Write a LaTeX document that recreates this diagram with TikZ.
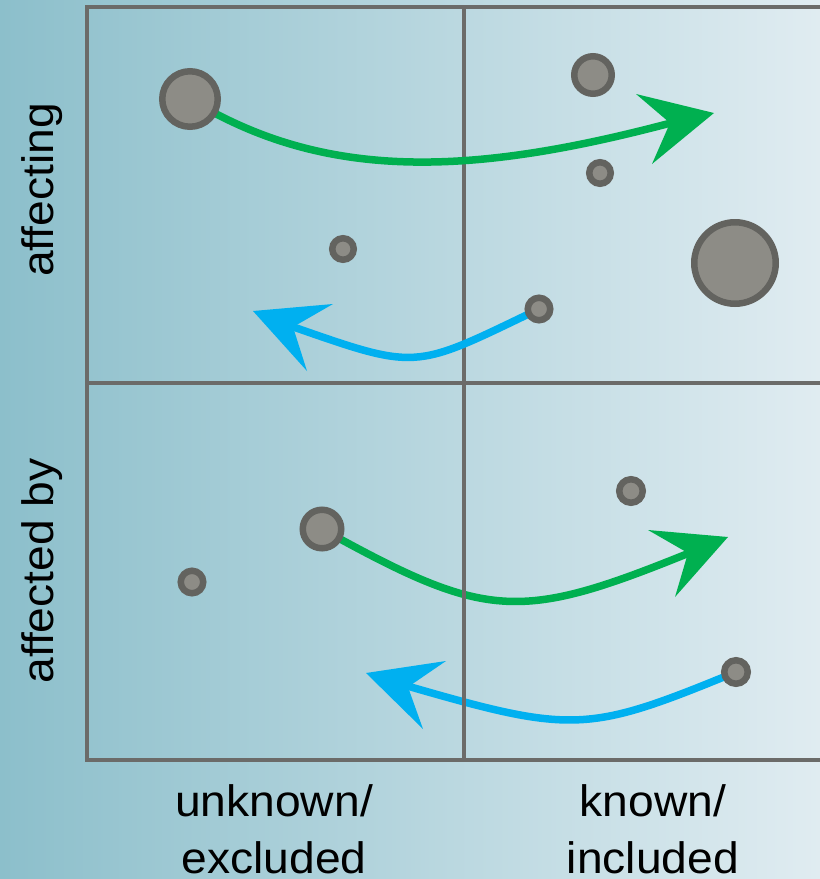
\documentclass[tikz,border=0pt]{standalone}
\usepackage{fontspec}
\setmainfont{Liberation Sans}[FakeStretch=1.05]
\pgfdeclarelayer{back}
\pgfdeclarelayer{lowarr}
\pgfdeclarelayer{gridl}
\pgfdeclarelayer{toparr}
\pgfsetlayers{back,lowarr,gridl,toparr,main}
\definecolor{bgL}{HTML}{8CBFCB}
\definecolor{bgR}{HTML}{E0ECF1}
\definecolor{gridc}{HTML}{6B6B69}
\definecolor{ringc}{HTML}{63635F}
\definecolor{dotc}{HTML}{8D8C86}
\definecolor{garr}{HTML}{00B050}
\definecolor{barr}{HTML}{00B0F0}
\begin{document}
\begin{tikzpicture}[x=1pt,y=-1pt,
  dot/.style={circle,draw=ringc,fill=dotc,line width=6.5pt,inner sep=0pt,minimum size=#1},
  gridline/.style={draw=gridc,line width=4pt},
  garrow/.style={draw=garr,line width=7.5pt},
  barrow/.style={draw=barr,line width=7.5pt},
  lab/.style={font=\fontsize{44}{52}\selectfont,text=black,inner sep=0pt}]
\useasboundingbox (0,0) rectangle (820,879);
% dots
\node[dot=55.5] (d1) at (190,99) {};
\node[dot=21.5] (d2) at (343,249) {};
\node[dot=37.5] (d3) at (593,75) {};
\node[dot=21.5] (d4) at (600,173) {};
\node[dot=81.5] (d5) at (735,263) {};
\node[dot=22.5] (d6) at (539,309) {};
\node[dot=38.5] (d7) at (322,529) {};
\node[dot=22.5] (d8) at (192,582) {};
\node[dot=23.5] (d9) at (631,491) {};
\node[dot=23.5] (d10) at (736,672) {};
% labels
\node[lab,rotate=90,anchor=base] (l1) at (53,190) {affecting};
\node[lab,rotate=90,anchor=base] (l2) at (53,571) {affected by};
\node[lab,anchor=base] (l3) at (274,816) {unknown/};
\node[lab,anchor=base] (l4) at (274,873) {excluded};
\node[lab,anchor=base] (l5) at (653,816) {known/};
\node[lab,anchor=base] (l6) at (653,873) {included};
% background
\begin{pgfonlayer}{back}
\shade[left color=bgL,right color=bgR] (0,0) rectangle (820,879);
\end{pgfonlayer}
% grid
\begin{pgfonlayer}{gridl}
\coordinate (tl) at (87,7);
\coordinate (tm) at (463.5,7);
\coordinate (tr) at (820,7);
\coordinate (ml) at (87,383);
\coordinate (mr) at (820,383);
\coordinate (bl) at (87,760);
\coordinate (bm) at (463.5,760);
\coordinate (br) at (820,760);
\draw[gridline] (tr) -- (tl) -- (bl) -- (br);
\draw[gridline] (ml) -- (mr);
\draw[gridline] (tm) -- (bm);
\end{pgfonlayer}
% top arrows
\begin{pgfonlayer}{toparr}
\coordinate (g1e) at (682,120);
\coordinate (g1t) at (714,113);
\coordinate (g1a) at (636,94);
\coordinate (g1n) at (670,123);
\coordinate (g1b) at (652,164);
\draw[garrow] (d1.center) .. controls (330,185) and (482,174) .. (g1e);
\fill[garr] (g1t) -- (g1a) -- (g1n) -- (g1b) -- cycle;
\coordinate (b1e) at (282,323);
\coordinate (b1t) at (253,311);
\coordinate (b1a) at (333,304);
\coordinate (b1n) at (293,327);
\coordinate (b1b) at (307,371);
\draw[barrow] (d6.center) .. controls (410,371) and (420,371) .. (b1e);
\fill[barr] (b1t) -- (b1a) -- (b1n) -- (b1b) -- cycle;
\end{pgfonlayer}
% bottom arrows
\begin{pgfonlayer}{lowarr}
\coordinate (g2e) at (699,549);
\coordinate (g2t) at (728,537);
\coordinate (g2a) at (648,530);
\coordinate (g2n) at (688,553);
\coordinate (g2b) at (675,597);
\draw[garrow] (d7.center) .. controls (490,622) and (520,622) .. (g2e);
\fill[garr] (g2t) -- (g2a) -- (g2n) -- (g2b) -- cycle;
\coordinate (b2e) at (397,683);
\coordinate (b2t) at (366,673);
\coordinate (b2a) at (446,661);
\coordinate (b2n) at (408,687);
\coordinate (b2b) at (423,729);
\draw[barrow] (d10.center) .. controls (585,734) and (573,734) .. (b2e);
\fill[barr] (b2t) -- (b2a) -- (b2n) -- (b2b) -- cycle;
\end{pgfonlayer}
\end{tikzpicture}
\end{document}
